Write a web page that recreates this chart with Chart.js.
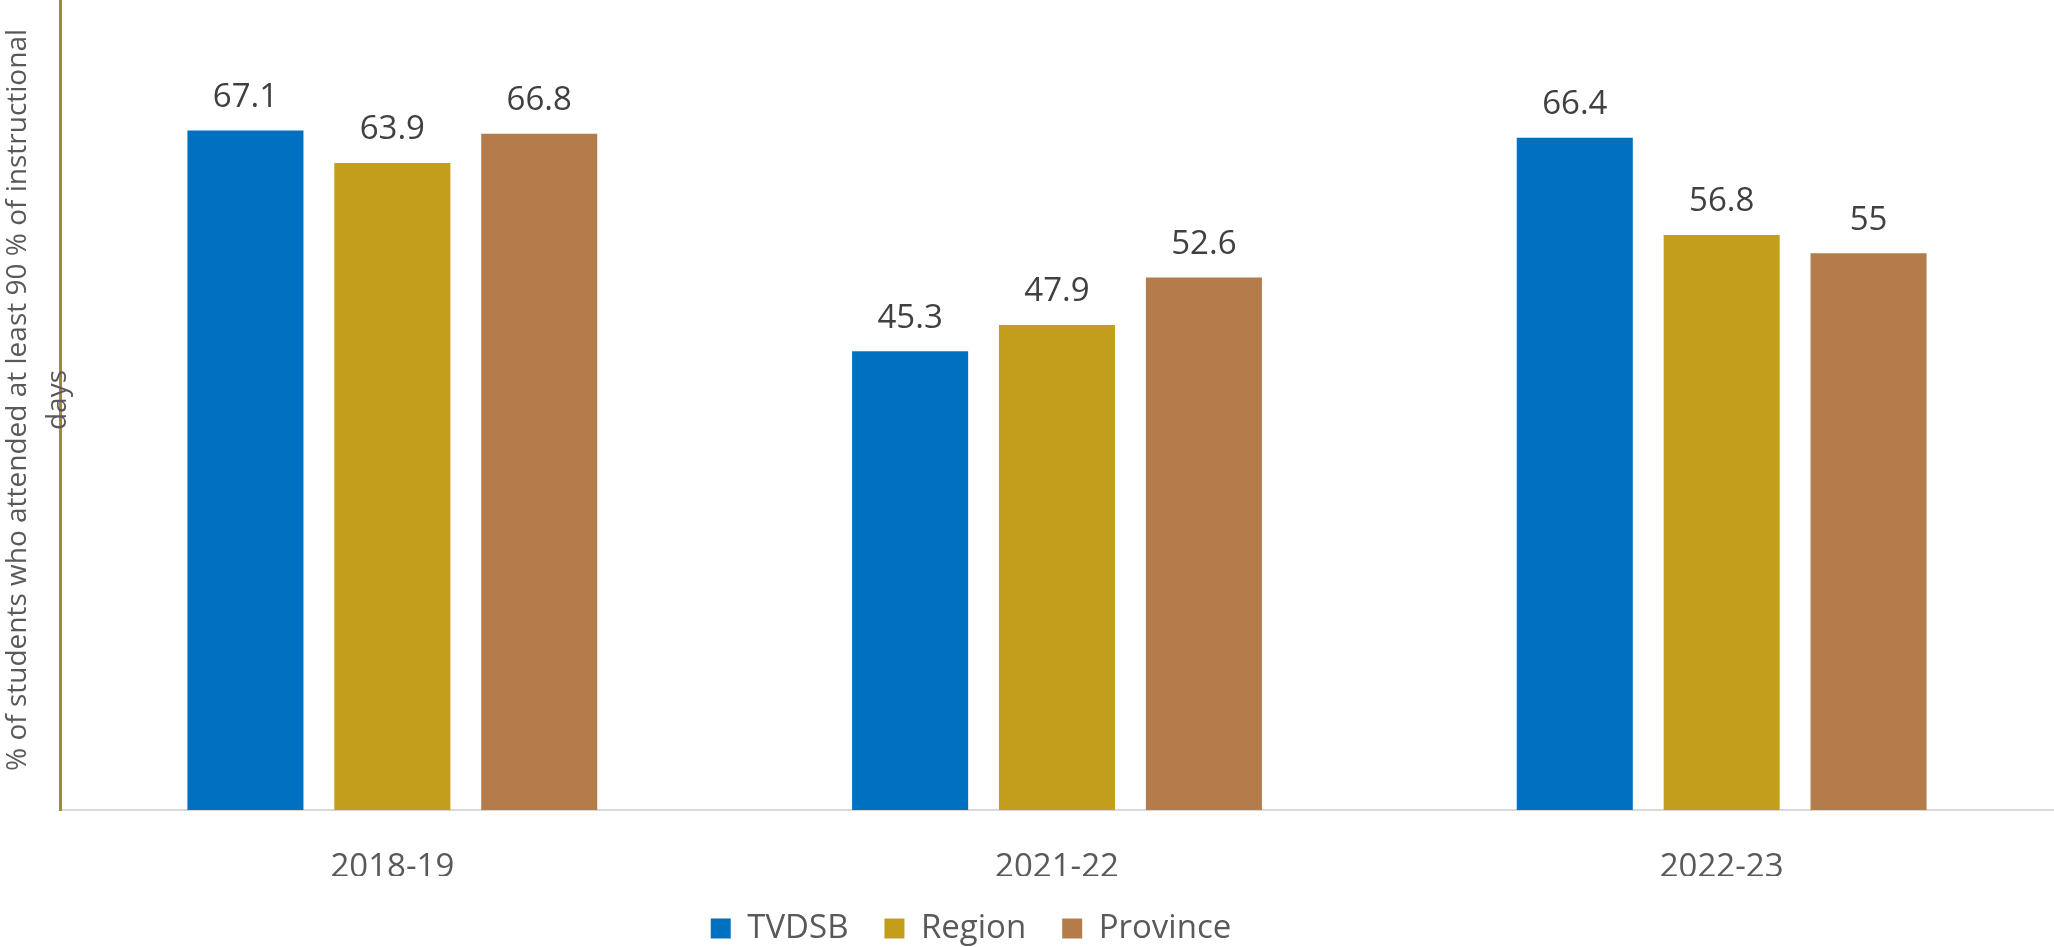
<!DOCTYPE html>
<html>
<head>
<meta charset="utf-8">
<script src="https://cdn.jsdelivr.net/npm/chart.js@4/dist/chart.umd.min.js"></script>
<style>
    html, body { margin: 0; padding: 0; background: #fff; }
    #wrap { width: 2054px; height: 947px; }
</style>
</head>
<body>
<div id="wrap"><canvas id="attendChart"></canvas></div>
<script>
var categories = ['2018-19', '2021-22', '2022-23'];
var seriesNames = ['TVDSB', 'Region', 'Province'];
var tvdsbValues = [67.1, 45.3, 66.4];
var regionValues = [63.9, 47.9, 56.8];
var provinceValues = [66.8, 52.6, 55];
var yTitleLines = ['% of students who attended at least 90 % of instructional', 'days'];
var yMax = 80;

var colors = ['#0070C0', '#C39E1C', '#B37C4A'];
var fontFamily = '"Open Sans", "Liberation Sans", sans-serif';

// value labels above each bar
var barLabels = {
    id: 'barLabels',
    afterDatasetsDraw: function(chart) {
        var ctx = chart.ctx;
        ctx.save();
        ctx.font = '33px ' + fontFamily;
        ctx.fillStyle = '#404040';
        ctx.textAlign = 'center';
        ctx.textBaseline = 'middle';
        chart.data.datasets.forEach(function(ds, i) {
            chart.getDatasetMeta(i).data.forEach(function(bar, j) {
                ctx.fillText(String(ds.data[j]), bar.x, bar.y - 33);
            });
        });
        ctx.restore();
    }
};

// rotated y title, second line sits over the axis like the original
var yTitle = {
    id: 'yTitle',
    afterDraw: function(chart) {
        var ctx = chart.ctx;
        var area = chart.chartArea;
        ctx.save();
        ctx.font = '28px ' + fontFamily;
        ctx.fillStyle = '#595959';
        ctx.textAlign = 'center';
        ctx.textBaseline = 'middle';
        ctx.translate(area.left, (area.top + area.bottom) / 2 - 5);
        ctx.rotate(-Math.PI / 2);
        ctx.fillText(yTitleLines[0], 0, -42);
        ctx.fillText(yTitleLines[1], 0, -2);
        ctx.restore();
    }
};

// legend sits left of centre and a bit lower; keep x labels unclipped
var legendShift = {
    id: 'legendShift',
    afterLayout: function(chart) {
        var lg = chart.legend;
        if (!lg) return;
        lg.right -= 172;
        lg.top += 8;
        lg.bottom += 8;
        chart.scales.x.bottom = lg.top;
    }
};

var seriesData = [tvdsbValues, regionValues, provinceValues];

new Chart(document.getElementById('attendChart'), {
    type: 'bar',
    data: {
        labels: categories,
        datasets: seriesNames.map(function(name, i) {
            return {
                label: name,
                data: seriesData[i],
                backgroundColor: colors[i],
                borderWidth: 0,
                categoryPercentage: 0.663,
                barPercentage: 0.79
            };
        })
    },
    options: {
        responsive: true,
        maintainAspectRatio: false,
        animation: false,
        layout: { padding: { top: 0, left: 60, right: 0, bottom: 0 } },
        plugins: {
            tooltip: { enabled: false },
            legend: {
                position: 'bottom',
                labels: {
                    boxWidth: 20,
                    boxHeight: 20,
                    padding: 36,
                    color: '#595959',
                    font: { family: fontFamily, size: 33 }
                }
            }
        },
        scales: {
            x: {
                grid: { display: false, drawTicks: false },
                border: { display: true, color: '#D9D9D9', width: 2 },
                ticks: {
                    color: '#595959',
                    padding: 38,
                    font: { family: fontFamily, size: 33 }
                },
                afterFit: function(scale) { scale.height = 58; }
            },
            y: {
                min: 0,
                max: yMax,
                grid: { display: false, drawTicks: false },
                border: { display: true, color: '#A08C30', width: 3 },
                ticks: { display: false }
            }
        }
    },
    plugins: [barLabels, yTitle, legendShift]
});
</script>
</body>
</html>
